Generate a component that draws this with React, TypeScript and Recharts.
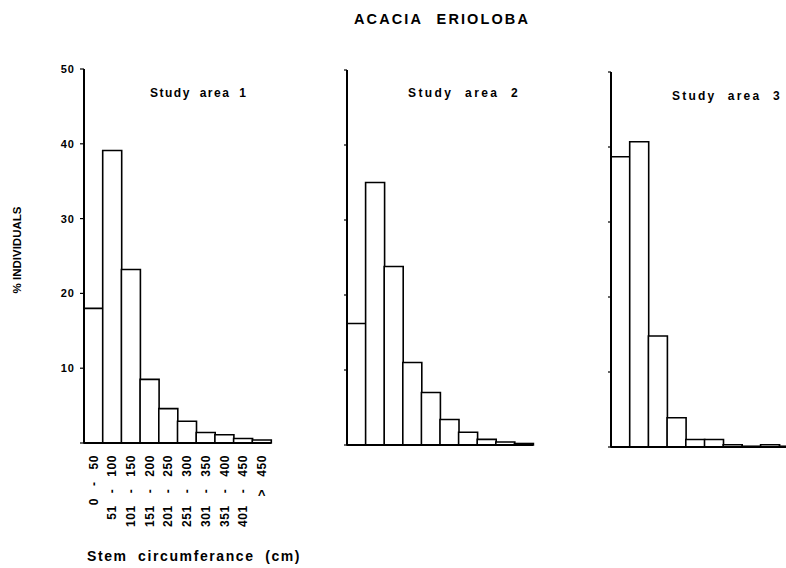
import React from "react";
import { BarChart, Bar, XAxis, YAxis } from "recharts";

const categories = ["0 - 50", "51 - 100", "101 - 150", "151 - 200", "201 - 250", "251 - 300", "301 - 350", "351 - 400", "401 - 450", "> 450"];
const area1 = [18, 39.1, 23.2, 8.5, 4.6, 2.9, 1.4, 1.1, 0.6, 0.4];
const area2 = [16.2, 35, 23.8, 11, 7, 3.4, 1.7, 0.75, 0.4, 0.2];
const area3 = [38.7, 40.7, 14.8, 3.9, 1.0, 1.0, 0.3, 0.1, 0.3, 0.1];
const yTicks = [0, 10, 20, 30, 40, 50];
const areaNames = ["Study area 1", "Study area 2", "Study area 3"];

const FONT = "'Liberation Sans', Arial, sans-serif";

const makeData = (vals: number[]) => categories.map((c, i) => ({ cat: c, value: vals[i] }));

const XTick = (props: any) => {
  const { x, y, payload } = props;
  return (
    <text
      x={x}
      y={y}
      transform={`rotate(-90, ${x}, ${y})`}
      textAnchor="end"
      dy="0.36em"
      fontFamily={FONT}
      fontWeight="bold"
      fontSize={12}
      letterSpacing={0.6}
      wordSpacing={8}
      fill="#000"
    >
      {payload.value}
    </text>
  );
};

const EmptyTick = () => <g />;

type PanelProps = {
  vals: number[];
  left: number;
  right: number;
  top: number;
  bottom: number;
  showLabels: boolean;
};

const CW = 800;
const CH = 568;
const YW = 30;
const XH = 80;

const Panel = ({ vals, left, right, top, bottom, showLabels }: PanelProps) => (
  <div style={{ position: "absolute", left: 0, top: 0 }}>
    <BarChart
      width={CW}
      height={CH}
      data={makeData(vals)}
      barCategoryGap={0}
      margin={{ left: left - YW, right: CW - right, top: top, bottom: CH - bottom - XH }}
    >
      <XAxis
        dataKey="cat"
        height={XH}
        interval={0}
        axisLine={{ stroke: "#000", strokeWidth: 2.2 }}
        tickLine={false}
        tickSize={0}
        tickMargin={12}
        tick={showLabels ? <XTick /> : false}
      />
      <YAxis
        width={YW}
        domain={[0, 50]}
        ticks={yTicks}
        interval={0}
        axisLine={{ stroke: "#000", strokeWidth: 2 }}
        tickLine={{ stroke: "#000", strokeWidth: 1.2 }}
        tickSize={showLabels ? 4 : 3}
        tickMargin={5}
        tick={
          showLabels
            ? { fill: "#000", fontFamily: FONT, fontWeight: "bold", fontSize: 11, letterSpacing: 1 }
            : <EmptyTick />
        }
        tickFormatter={(v: number) => (v === 0 ? "" : String(v))}
      />
      <Bar dataKey="value" fill="#fff" stroke="#000" strokeWidth={1.6} isAnimationActive={false} />
    </BarChart>
  </div>
);

export default function App() {
  return (
    <div
      style={{
        position: "absolute",
        left: 0,
        top: 0,
        width: 786,
        height: 568,
        overflow: "hidden",
        background: "#fff",
      }}
    >
      <Panel vals={area1} left={84} right={271} top={69} bottom={443} showLabels={true} />
      <Panel vals={area2} left={347} right={533} top={70} bottom={445} showLabels={false} />
      <Panel vals={area3} left={611} right={798} top={72} bottom={447} showLabels={false} />
      <svg
        width={786}
        height={568}
        style={{ position: "absolute", left: 0, top: 0, pointerEvents: "none" }}
      >
        <text x={442} y={24} textAnchor="middle" fontFamily={FONT} fontWeight="bold" fontSize={14.5} letterSpacing={2.1} wordSpacing={8}>
          ACACIA ERIOLOBA
        </text>
        <text
          x={17}
          y={250}
          transform="rotate(-90, 17, 250)"
          textAnchor="middle"
          dy="0.36em"
          fontFamily={FONT}
          fontWeight="bold"
          fontSize={11.5}
        >
          % INDIVIDUALS
        </text>
        <text x={87} y={561} fontFamily={FONT} fontWeight="bold" fontSize={14} letterSpacing={1.6} wordSpacing={5}>
          Stem circumferance (cm)
        </text>
        <text x={150} y={97} fontFamily={FONT} fontWeight="bold" fontSize={12} letterSpacing={1.5} wordSpacing={4}>
          {areaNames[0]}
        </text>
        <text x={408} y={97} fontFamily={FONT} fontWeight="bold" fontSize={12} letterSpacing={2.4} wordSpacing={6}>
          {areaNames[1]}
        </text>
        <text x={672} y={100} fontFamily={FONT} fontWeight="bold" fontSize={12} letterSpacing={2.2} wordSpacing={6}>
          {areaNames[2]}
        </text>
      </svg>
    </div>
  );
}
